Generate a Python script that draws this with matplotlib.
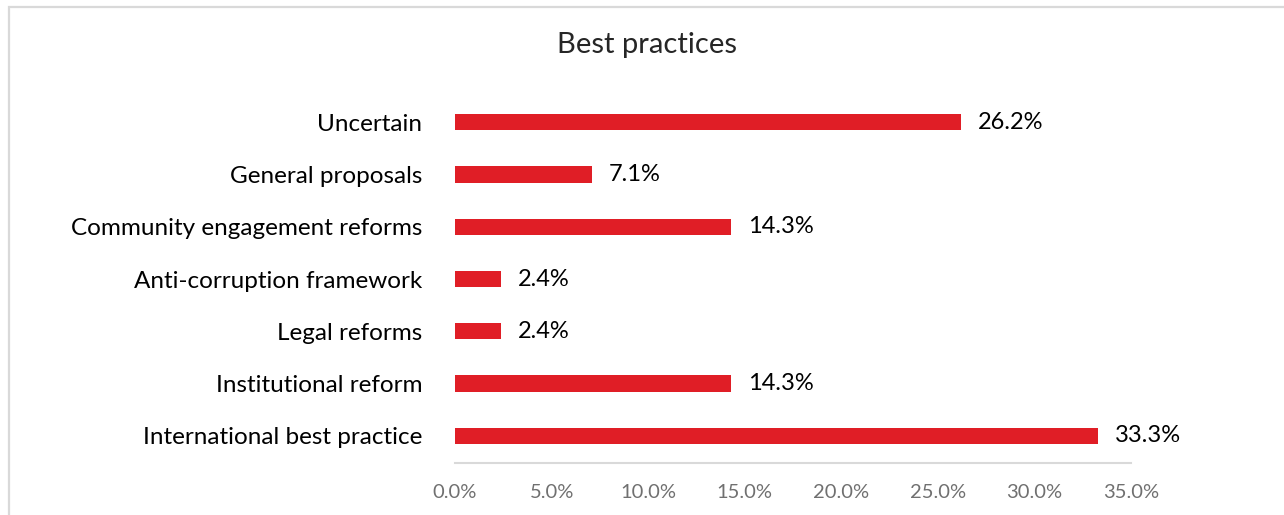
from matplotlib import pyplot as plt
from matplotlib.patches import Rectangle

# Survey answers, listed bottom to top as drawn
categories = [
	"International best practice",
	"Institutional reform",
	"Legal reforms",
	"Anti-corruption framework",
	"Community engagement reforms",
	"General proposals",
	"Uncertain",
]
shares = [33.3, 14.3, 2.4, 2.4, 14.3, 7.1, 26.2]
ticks = [0, 5, 10, 15, 20, 25, 30, 35]

RED = "#E01E26"
FONT = "Lato"

fig = plt.figure(figsize=(12.84, 5.15), dpi=100)
ax = fig.add_axes([0.3544, 0.101, 0.5264, 0.7145])

y = range(len(categories))
ax.barh(y, shares, height=0.31, color=RED, zorder=2)

for yi, v in zip(y, shares):
	ax.annotate("%.1f%%" % v, (v, yi), xytext=(12, 0), textcoords="offset points",
		va="center", ha="left", fontsize=17, family=FONT, color="black")

ax.set_xlim(0, 35)
ax.set_ylim(-0.52, 6.52)
ax.set_xticks(ticks)
ax.set_xticklabels(["%.1f%%" % t for t in ticks], family=FONT, fontsize=14.5, color="#707070")
ax.set_yticks(list(y))
ax.set_yticklabels(categories, family=FONT, fontsize=17.5, color="black")
ax.tick_params(axis="both", length=0)
ax.tick_params(axis="x", pad=15)
ax.tick_params(axis="y", pad=23.5)

for s in ["top", "right", "left"]:
	ax.spines[s].set_visible(False)
ax.spines["bottom"].set_color("#d9d9d9")
ax.spines["bottom"].set_linewidth(1.5)

fig.text(0.504, 0.912, "Best practices", ha="center", va="center",
	fontsize=21, family=FONT, color="#262626")

# light frame round the chart area
fig.patches.append(Rectangle((9 / 1284, -0.1), 1.2, 1.1 - 7 / 515,
	transform=fig.transFigure, fill=False, edgecolor="#d9d9d9", linewidth=1.6))

fig.savefig("out.png", dpi=100)
